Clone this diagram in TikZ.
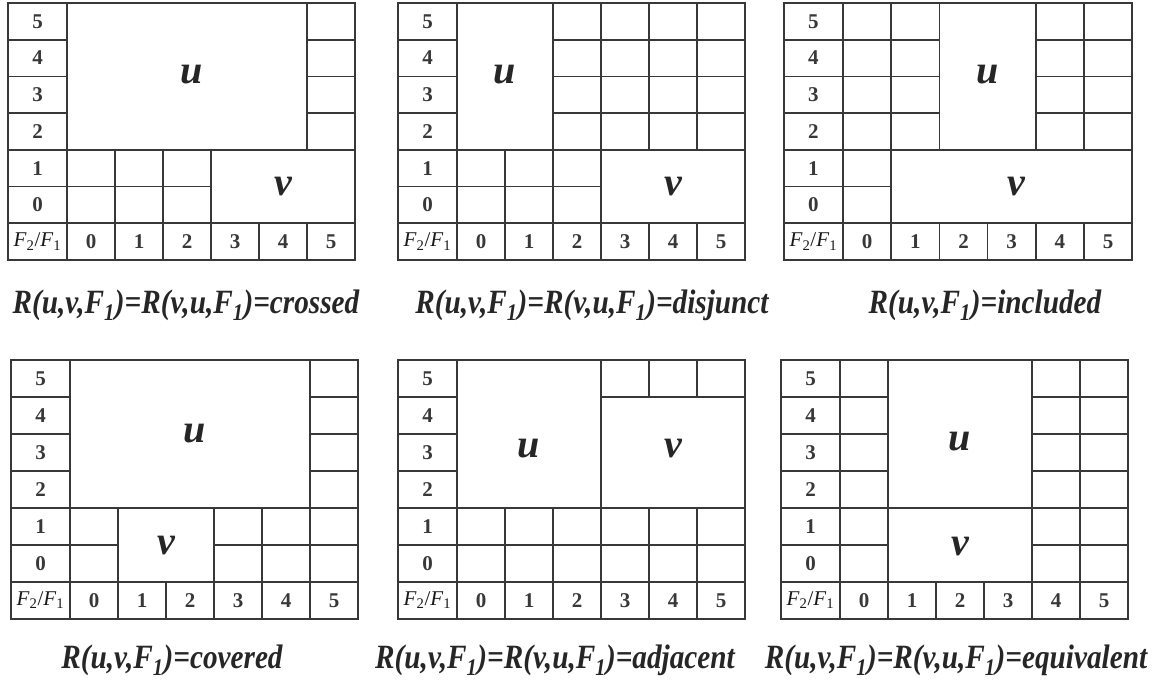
\documentclass[tikz,border=0pt]{standalone}
\usepackage{fontspec}
\setmainfont{Liberation Serif}
\newfontfamily\capfont[FakeStretch=0.86]{Liberation Serif}
\tikzset{
  gridline/.style={draw=black!78, line width=1.7pt},
  frameline/.style={draw=black!78, line width=2.2pt},
  digit/.style={font=\bfseries\fontsize{21}{21}\selectfont, text=black!78, inner sep=0pt},
  axislabel/.style={font=\fontsize{21}{21}\selectfont, text=black!90, inner sep=0pt},
  uvlabel/.style={font=\bfseries\itshape\fontsize{40}{40}\selectfont, text=black!85, inner sep=0pt},
  caption/.style={font=\capfont\bfseries\itshape\fontsize{34}{34}\selectfont, text=black!85, inner sep=0pt},
}
\def\labw{1.229}
\newcommand\panelgrid[1]{%
  \foreach \j in {1,...,6} \draw[gridline] (-\labw,\j) -- (6,\j);
  \foreach \i in {0,...,5} \draw[gridline] (\i,0) -- (\i,7);
  \foreach \r in {0,...,5} \node[digit] (#1r\r) at (-\labw/2,5.5-\r) {\r};
  \node[axislabel] (#1ax) at (-\labw/2,6.5) {\textit{F}\textsubscript{2}/\textit{F}\textsubscript{1}};
  \foreach \c in {0,...,5} \node[digit] (#1c\c) at (\c+0.5,6.5) {\c};
}
\newcommand\uvrect[4]{\draw[gridline,fill=white] (#1,5-#4) rectangle (#2+1,6-#3);}
\newcommand\panelframe{\draw[frameline] (-\labw,0) rectangle (6,7);}
\begin{document}
\begin{tikzpicture}
\useasboundingbox[fill=white] (0,0) rectangle (1153pt,-691pt);

% crossed
\begin{scope}[shift={(67pt,-3pt)}, x=48pt, y=-36.7pt]
  \panelgrid{A}
  \uvrect{0}{4}{2}{5}
  \uvrect{3}{5}{0}{1}
  \panelframe
  \node[uvlabel] (Au) at (2.6,1.95) {u};
  \node[uvlabel] (Av) at (4.5,5.0) {v};
\end{scope}

% disjunct
\begin{scope}[shift={(457pt,-3pt)}, x=48pt, y=-36.7pt]
  \panelgrid{B}
  \uvrect{0}{1}{2}{5}
  \uvrect{3}{5}{0}{1}
  \panelframe
  \node[uvlabel] (Bu) at (1.0,1.95) {u};
  \node[uvlabel] (Bv) at (4.5,5.0) {v};
\end{scope}

% included
\begin{scope}[shift={(843pt,-3pt)}, x=48.2pt, y=-36.7pt]
  \panelgrid{C}
  \uvrect{2}{3}{2}{5}
  \uvrect{1}{5}{0}{1}
  \panelframe
  \node[uvlabel] (Cu) at (3.0,1.95) {u};
  \node[uvlabel] (Cv) at (3.6,5.0) {v};
\end{scope}

% covered
\begin{scope}[shift={(70pt,-360pt)}, x=48pt, y=-37pt]
  \panelgrid{D}
  \uvrect{0}{4}{2}{5}
  \uvrect{1}{2}{0}{1}
  \panelframe
  \node[uvlabel] (Du) at (2.6,2.0) {u};
  \node[uvlabel] (Dv) at (2.0,5.0) {v};
\end{scope}

% adjacent
\begin{scope}[shift={(457pt,-360pt)}, x=48pt, y=-37pt]
  \panelgrid{E}
  \uvrect{0}{2}{2}{5}
  \uvrect{3}{5}{2}{4}
  \panelframe
  \node[uvlabel] (Eu) at (1.5,2.4) {u};
  \node[uvlabel] (Ev) at (4.5,2.4) {v};
\end{scope}

% equivalent
\begin{scope}[shift={(840pt,-360pt)}, x=48pt, y=-37pt]
  \panelgrid{F}
  \uvrect{1}{3}{2}{5}
  \uvrect{1}{3}{0}{1}
  \panelframe
  \node[uvlabel] (Fu) at (2.5,2.2) {u};
  \node[uvlabel] (Fv) at (2.5,5.05) {v};
\end{scope}

\node[caption] (capA) at (186pt,-305pt) {R(u,v,F\textsubscript{1})=R(v,u,F\textsubscript{1})=crossed};
\node[caption] (capB) at (592pt,-305pt) {R(u,v,F\textsubscript{1})=R(v,u,F\textsubscript{1})=disjunct};
\node[caption] (capC) at (985pt,-305pt) {R(u,v,F\textsubscript{1})=included};
\node[caption] (capD) at (172pt,-660pt) {R(u,v,F\textsubscript{1})=covered};
\node[caption] (capE) at (555pt,-660pt) {R(u,v,F\textsubscript{1})=R(v,u,F\textsubscript{1})=adjacent};
\node[caption] (capF) at (956pt,-660pt) {R(u,v,F\textsubscript{1})=R(v,u,F\textsubscript{1})=equivalent};
\end{tikzpicture}
\end{document}
